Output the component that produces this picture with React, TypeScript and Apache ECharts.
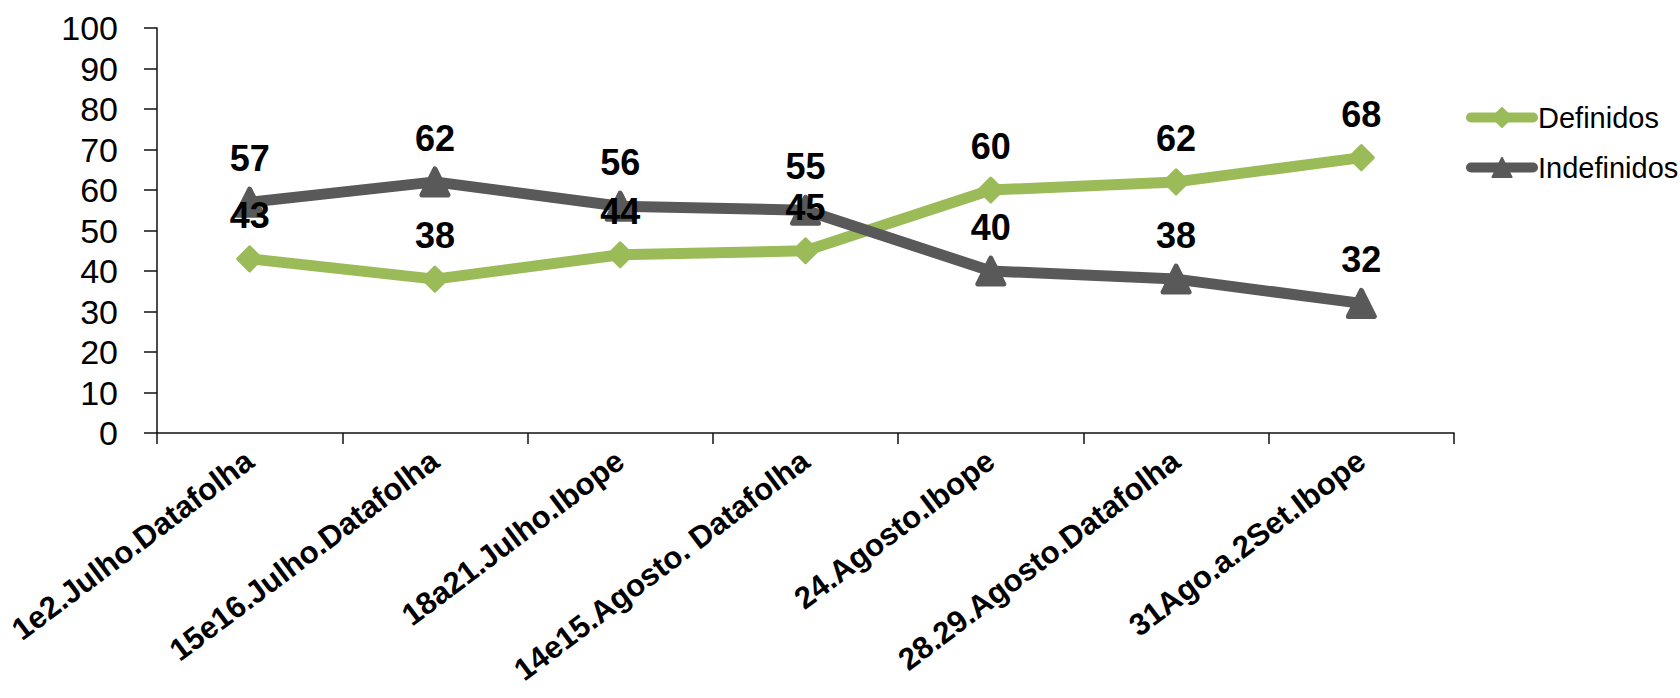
import React, { useEffect, useRef } from "react";
import * as echarts from "echarts";

const categories = [
  "1e2.Julho.Datafolha",
  "15e16.Julho.Datafolha",
  "18a21.Julho.Ibope",
  "14e15.Agosto. Datafolha",
  "24.Agosto.Ibope",
  "28.29.Agosto.Datafolha",
  "31Ago.a.2Set.Ibope",
];
const definidos = [43, 38, 44, 45, 60, 62, 68];
const indefinidos = [57, 62, 56, 55, 40, 38, 32];
const seriesNames = ["Definidos", "Indefinidos"];
const yTicks = { min: 0, max: 100, interval: 10 };

const FONT = "'Liberation Sans', Arial, sans-serif";
const GREEN = "#9BBB59";
const GREY = "#595959";

export default function App() {
  const ref = useRef<HTMLDivElement>(null);
  useEffect(() => {
    if (!ref.current) return;
    const chart = echarts.init(ref.current, null, { renderer: "svg" });
    const labelStyle = {
      show: true,
      position: "top" as const,
      fontSize: 36,
      fontWeight: "bold" as const,
      color: "#000",
      fontFamily: FONT,
    };
    chart.setOption({
      animation: false,
      backgroundColor: "#fff",
      grid: { left: 157, right: 226, top: 28, bottom: 265, containLabel: false },
      legend: {
        orient: "vertical",
        left: 1466,
        top: 103,
        itemWidth: 62,
        itemHeight: 24,
        itemGap: 21,
        padding: 0,
        lineStyle: { width: 10, cap: "round" },
        textStyle: { fontSize: 29, color: "#000", fontFamily: FONT },
        data: seriesNames,
      },
      xAxis: {
        type: "category",
        data: categories,
        boundaryGap: true,
        axisLine: { lineStyle: { color: "#111", width: 1.5 } },
        axisTick: { show: true, length: 11, lineStyle: { color: "#111", width: 1.5 } },
        axisLabel: {
          rotate: 37,
          margin: 24,
          fontSize: 31,
          fontWeight: "bold",
          color: "#000",
          fontFamily: FONT,
          interval: 0,
        },
      },
      yAxis: {
        type: "value",
        min: yTicks.min,
        max: yTicks.max,
        interval: yTicks.interval,
        splitLine: { show: false },
        axisLine: { show: true, lineStyle: { color: "#111", width: 1.5 } },
        axisTick: { show: true, length: 13, lineStyle: { color: "#111", width: 1.5 } },
        axisLabel: { fontSize: 34, color: "#000", fontFamily: FONT, margin: 39 },
      },
      series: [
        {
          name: seriesNames[0],
          type: "line",
          data: definidos,
          symbol: "diamond",
          symbolSize: 24,
          lineStyle: { color: GREEN, width: 11, cap: "round", join: "round" },
          itemStyle: { color: GREEN, borderColor: GREEN, borderWidth: 3, borderJoin: "round" },
          label: { ...labelStyle, distance: 12 },
          z: 2,
        },
        {
          name: seriesNames[1],
          type: "line",
          data: indefinidos,
          symbol: "triangle",
          symbolSize: 26,
          lineStyle: { color: GREY, width: 11, cap: "round", join: "round" },
          itemStyle: { color: GREY, borderColor: GREY, borderWidth: 5, borderJoin: "round" },
          label: { ...labelStyle, distance: 10 },
          z: 2,
        },
      ],
    });
    return () => chart.dispose();
  }, []);
  return (
    <div
      ref={ref}
      style={{ position: "absolute", left: 0, top: 0, width: 1680, height: 698 }}
    />
  );
}
